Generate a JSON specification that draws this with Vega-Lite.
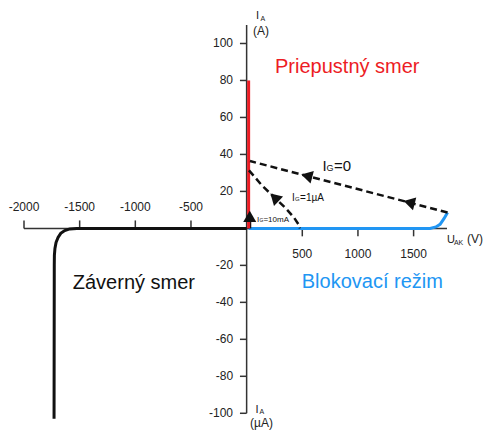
{
"$schema":"https://vega.github.io/schema/vega-lite/v6.json",
"width":423,"height":404,
"autosize":{"type":"none"},
"padding":{"left":24,"top":25,"right":42,"bottom":1},
"background":"white",
"config":{"view":{"stroke":null},"text":{"font":"Liberation Sans"}},
"layer":[
 {"data":{"values":[{"V":-2000,"I":0,"V2":1800,"I2":0},{"V":0,"I":-100,"V2":0,"I2":110}]},
  "mark":{"type":"rule","color":"#333","strokeWidth":1.5},
  "encoding":{
   "x":{"field":"V","type":"quantitative","scale":{"domain":[-2000,1800],"nice":false,"zero":false},"axis":null},
   "y":{"field":"I","type":"quantitative","scale":{"domain":[-108.5,110],"nice":false,"zero":false},"axis":null},
   "x2":{"field":"V2"},"y2":{"field":"I2"}}},
 {"data":{"values":[{"V":-2000},{"V":-1500},{"V":-1000},{"V":-500}]},
  "mark":{"type":"rule","color":"#333","strokeWidth":1.5},
  "encoding":{
   "x":{"field":"V","type":"quantitative","scale":{"domain":[-2000,1800],"nice":false,"zero":false},"axis":null},
   "y":{"datum":0,"type":"quantitative","scale":{"domain":[-108.5,110],"nice":false,"zero":false},"axis":null},"y2":{"datum":4.3}}},
 {"data":{"values":[{"V":500},{"V":1000},{"V":1500}]},
  "mark":{"type":"rule","color":"#333","strokeWidth":1.5},
  "encoding":{
   "x":{"field":"V","type":"quantitative","scale":{"domain":[-2000,1800],"nice":false,"zero":false},"axis":null},
   "y":{"datum":0,"type":"quantitative","scale":{"domain":[-108.5,110],"nice":false,"zero":false},"axis":null},"y2":{"datum":-4.3}}},
 {"data":{"values":[{"I":100},{"I":80},{"I":60},{"I":40},{"I":20},{"I":-20},{"I":-40},{"I":-60},{"I":-80},{"I":-100}]},
  "mark":{"type":"rule","color":"#333","strokeWidth":1.5},
  "encoding":{
   "y":{"field":"I","type":"quantitative","scale":{"domain":[-108.5,110],"nice":false,"zero":false},"axis":null},
   "x":{"datum":0,"type":"quantitative","scale":{"domain":[-2000,1800],"nice":false,"zero":false},"axis":null},"x2":{"datum":-60}}},
 {"data":{"values":[{"V":-2000,"t":"-2000"},{"V":-1500,"t":"-1500"},{"V":-1000,"t":"-1000"},{"V":-500,"t":"-500"}]},
  "mark":{"type":"text","fontSize":12,"color":"#222","align":"center","baseline":"alphabetic"},
  "encoding":{
   "x":{"field":"V","type":"quantitative","scale":{"domain":[-2000,1800],"nice":false,"zero":false},"axis":null},
   "y":{"datum":9.6,"type":"quantitative","scale":{"domain":[-108.5,110],"nice":false,"zero":false},"axis":null},"text":{"field":"t"}}},
 {"data":{"values":[{"V":500,"t":"500"},{"V":1000,"t":"1000"},{"V":1500,"t":"1500"}]},
  "mark":{"type":"text","fontSize":12,"color":"#222","align":"center","baseline":"alphabetic"},
  "encoding":{
   "x":{"field":"V","type":"quantitative","scale":{"domain":[-2000,1800],"nice":false,"zero":false},"axis":null},
   "y":{"datum":-16,"type":"quantitative","scale":{"domain":[-108.5,110],"nice":false,"zero":false},"axis":null},"text":{"field":"t"}}},
 {"data":{"values":[{"I":100,"t":"100"},{"I":80,"t":"80"},{"I":60,"t":"60"},{"I":40,"t":"40"},{"I":20,"t":"20"},{"I":-20,"t":"-20"},{"I":-40,"t":"-40"},{"I":-60,"t":"-60"},{"I":-80,"t":"-80"},{"I":-100,"t":"-100"}]},
  "mark":{"type":"text","fontSize":12,"color":"#222","align":"right","baseline":"middle"},
  "encoding":{
   "y":{"field":"I","type":"quantitative","scale":{"domain":[-108.5,110],"nice":false,"zero":false},"axis":null},
   "x":{"datum":-122,"type":"quantitative","scale":{"domain":[-2000,1800],"nice":false,"zero":false},"axis":null},"text":{"field":"t"}}},
 {"data":{"values":[
   {"s":"blk","o":0,"V":18,"I":0},{"s":"blk","o":1,"V":1648,"I":0},{"s":"blk","o":2,"V":1700,"I":0.8},{"s":"blk","o":3,"V":1738,"I":2.2},{"s":"blk","o":4,"V":1774,"I":5.4},{"s":"blk","o":5,"V":1805,"I":8.6},
   {"s":"rev","o":0,"V":0,"I":0},{"s":"rev","o":1,"V":-1526,"I":0},{"s":"rev","o":2,"V":-1589,"I":-0.3},{"s":"rev","o":3,"V":-1634,"I":-1.2},{"s":"rev","o":4,"V":-1670,"I":-2.7},{"s":"rev","o":5,"V":-1694,"I":-4.9},{"s":"rev","o":6,"V":-1712,"I":-7.6},{"s":"rev","o":7,"V":-1722,"I":-10.8},{"s":"rev","o":8,"V":-1727,"I":-14.6},{"s":"rev","o":9,"V":-1728,"I":-19.5},{"s":"rev","o":10,"V":-1730,"I":-103},
   {"s":"gate","o":0,"V":28,"I":0},{"s":"gate","o":1,"V":28,"I":6},
   {"s":"fwd","o":0,"V":18,"I":0},{"s":"fwd","o":1,"V":18,"I":80}
  ]},
  "mark":{"type":"line","strokeWidth":3},
  "encoding":{
   "x":{"field":"V","type":"quantitative","scale":{"domain":[-2000,1800],"nice":false,"zero":false},"axis":null},
   "y":{"field":"I","type":"quantitative","scale":{"domain":[-108.5,110],"nice":false,"zero":false},"axis":null},
   "color":{"field":"s","type":"nominal","scale":{"domain":["fwd","blk","rev","gate"],"range":["#ed1c24","#2196f3","#111111","#111111"]},"legend":null},"order":{"field":"o"}}},
 {"data":{"values":[
   {"s":"ig0","o":0,"V":1805,"I":8.6},{"s":"ig0","o":1,"V":30,"I":36.4},
   {"s":"ig1","o":0,"V":21,"I":31.4},{"s":"ig1","o":1,"V":138,"I":23.2},{"s":"ig1","o":2,"V":254,"I":16.5},{"s":"ig1","o":3,"V":353,"I":10.8},{"s":"ig1","o":4,"V":425,"I":5.9},{"s":"ig1","o":5,"V":466,"I":2.2},{"s":"ig1","o":6,"V":479,"I":0}
  ]},
  "mark":{"type":"line","color":"#111","strokeWidth":2.5,"strokeDash":[7,4]},
  "encoding":{
   "x":{"field":"V","type":"quantitative","scale":{"domain":[-2000,1800],"nice":false,"zero":false},"axis":null},
   "y":{"field":"I","type":"quantitative","scale":{"domain":[-108.5,110],"nice":false,"zero":false},"axis":null},
   "detail":{"field":"s"},"order":{"field":"o"}}},
 {"data":{"values":[{"V":540,"I":28.4,"a":"ig0 first"},{"V":1460,"I":14.0,"a":"ig0 second"}]},
  "mark":{"type":"point","shape":"triangle-up","filled":true,"size":170,"angle":284.6,"color":"#111","opacity":1},
  "encoding":{
   "x":{"field":"V","type":"quantitative","scale":{"domain":[-2000,1800],"nice":false,"zero":false},"axis":null},
   "y":{"field":"I","type":"quantitative","scale":{"domain":[-108.5,110],"nice":false,"zero":false},"axis":null},
   "detail":{"field":"a"}}},
 {"data":{"values":[{"V":250,"I":16.8,"a":"ig1"}]},
  "mark":{"type":"point","shape":"triangle-up","filled":true,"size":170,"angle":314,"color":"#111","opacity":1},
  "encoding":{
   "x":{"field":"V","type":"quantitative","scale":{"domain":[-2000,1800],"nice":false,"zero":false},"axis":null},
   "y":{"field":"I","type":"quantitative","scale":{"domain":[-108.5,110],"nice":false,"zero":false},"axis":null},
   "detail":{"field":"a"}}},
 {"data":{"values":[{"V":28,"I":6.5,"a":"ig10"}]},
  "mark":{"type":"point","shape":"triangle-up","filled":true,"size":170,"angle":0,"color":"#111","opacity":1},
  "encoding":{
   "x":{"field":"V","type":"quantitative","scale":{"domain":[-2000,1800],"nice":false,"zero":false},"axis":null},
   "y":{"field":"I","type":"quantitative","scale":{"domain":[-108.5,110],"nice":false,"zero":false},"axis":null},
   "detail":{"field":"a"}}},
 {"data":{"values":[{"V":255,"I":84.3,"t":"Priepustný smer","s":"fwd"},{"V":495,"I":-32.4,"t":"Blokovací režim","s":"blk"},{"V":-1562,"I":-32.9,"t":"Záverný smer","s":"rev"}]},
  "mark":{"type":"text","fontSize":20,"align":"left","baseline":"alphabetic"},
  "encoding":{
   "x":{"field":"V","type":"quantitative","scale":{"domain":[-2000,1800],"nice":false,"zero":false},"axis":null},
   "y":{"field":"I","type":"quantitative","scale":{"domain":[-108.5,110],"nice":false,"zero":false},"axis":null},
   "text":{"field":"t"},"color":{"field":"s","type":"nominal","scale":{"domain":["fwd","blk","rev","gate"],"range":["#ed1c24","#2196f3","#111111","#111111"]},"legend":null}}},
 {"data":{"values":[{"V":84,"I":113.4,"t":"I"},{"V":80,"I":-99.6,"t":"I"},{"V":1799,"I":-8,"t":"U"}]},
  "mark":{"type":"text","fontSize":11,"color":"#222","align":"left","baseline":"alphabetic"},
  "encoding":{
   "x":{"field":"V","type":"quantitative","scale":{"domain":[-2000,1800],"nice":false,"zero":false},"axis":null},
   "y":{"field":"I","type":"quantitative","scale":{"domain":[-108.5,110],"nice":false,"zero":false},"axis":null},
   "text":{"field":"t"}}},
 {"data":{"values":[{"V":125,"I":112.3,"t":"A"},{"V":116,"I":-100.6,"t":"A"},{"V":1862,"I":-8.9,"t":"AK"}]},
  "mark":{"type":"text","fontSize":7,"color":"#222","align":"left","baseline":"alphabetic"},
  "encoding":{
   "x":{"field":"V","type":"quantitative","scale":{"domain":[-2000,1800],"nice":false,"zero":false},"axis":null},
   "y":{"field":"I","type":"quantitative","scale":{"domain":[-108.5,110],"nice":false,"zero":false},"axis":null},
   "text":{"field":"t"}}},
 {"data":{"values":[{"V":57,"I":104.7,"t":"(A)"},{"V":31,"I":-107.2,"t":"(µA)"},{"V":1979,"I":-8,"t":"(V)"}]},
  "mark":{"type":"text","fontSize":12,"color":"#222","align":"left","baseline":"alphabetic"},
  "encoding":{
   "x":{"field":"V","type":"quantitative","scale":{"domain":[-2000,1800],"nice":false,"zero":false},"axis":null},
   "y":{"field":"I","type":"quantitative","scale":{"domain":[-108.5,110],"nice":false,"zero":false},"axis":null},
   "text":{"field":"t"}}},
 {"data":{"values":[{"V":681,"I":31.1,"t":"I"},{"V":785,"I":31.1,"t":"=0"}]},
  "mark":{"type":"text","fontSize":15,"color":"#111","align":"left","baseline":"alphabetic"},
  "encoding":{
   "x":{"field":"V","type":"quantitative","scale":{"domain":[-2000,1800],"nice":false,"zero":false},"axis":null},
   "y":{"field":"I","type":"quantitative","scale":{"domain":[-108.5,110],"nice":false,"zero":false},"axis":null},
   "text":{"field":"t"}}},
 {"data":{"values":[{"V":717,"I":31.1,"t":"G"}]},
  "mark":{"type":"text","fontSize":9,"color":"#111","align":"left","baseline":"alphabetic"},
  "encoding":{
   "x":{"field":"V","type":"quantitative","scale":{"domain":[-2000,1800],"nice":false,"zero":false},"axis":null},
   "y":{"field":"I","type":"quantitative","scale":{"domain":[-108.5,110],"nice":false,"zero":false},"axis":null},
   "text":{"field":"t"}}},
 {"data":{"values":[{"V":408,"I":14.9,"t":"I"},{"V":480,"I":14.9,"t":"=1µA"}]},
  "mark":{"type":"text","fontSize":10,"color":"#111","align":"left","baseline":"alphabetic"},
  "encoding":{
   "x":{"field":"V","type":"quantitative","scale":{"domain":[-2000,1800],"nice":false,"zero":false},"axis":null},
   "y":{"field":"I","type":"quantitative","scale":{"domain":[-108.5,110],"nice":false,"zero":false},"axis":null},
   "text":{"field":"t"}}},
 {"data":{"values":[{"V":435,"I":14.6,"t":"G"}]},
  "mark":{"type":"text","fontSize":6,"color":"#111","align":"left","baseline":"alphabetic"},
  "encoding":{
   "x":{"field":"V","type":"quantitative","scale":{"domain":[-2000,1800],"nice":false,"zero":false},"axis":null},
   "y":{"field":"I","type":"quantitative","scale":{"domain":[-108.5,110],"nice":false,"zero":false},"axis":null},
   "text":{"field":"t"}}},
 {"data":{"values":[{"V":93,"I":3.5,"t":"I"},{"V":151,"I":3.5,"t":"=10mA"}]},
  "mark":{"type":"text","fontSize":8,"color":"#111","align":"left","baseline":"alphabetic"},
  "encoding":{
   "x":{"field":"V","type":"quantitative","scale":{"domain":[-2000,1800],"nice":false,"zero":false},"axis":null},
   "y":{"field":"I","type":"quantitative","scale":{"domain":[-108.5,110],"nice":false,"zero":false},"axis":null},
   "text":{"field":"t"}}},
 {"data":{"values":[{"V":116,"I":3.3,"t":"G"}]},
  "mark":{"type":"text","fontSize":5,"color":"#111","align":"left","baseline":"alphabetic"},
  "encoding":{
   "x":{"field":"V","type":"quantitative","scale":{"domain":[-2000,1800],"nice":false,"zero":false},"axis":null},
   "y":{"field":"I","type":"quantitative","scale":{"domain":[-108.5,110],"nice":false,"zero":false},"axis":null},
   "text":{"field":"t"}}}
]
}
